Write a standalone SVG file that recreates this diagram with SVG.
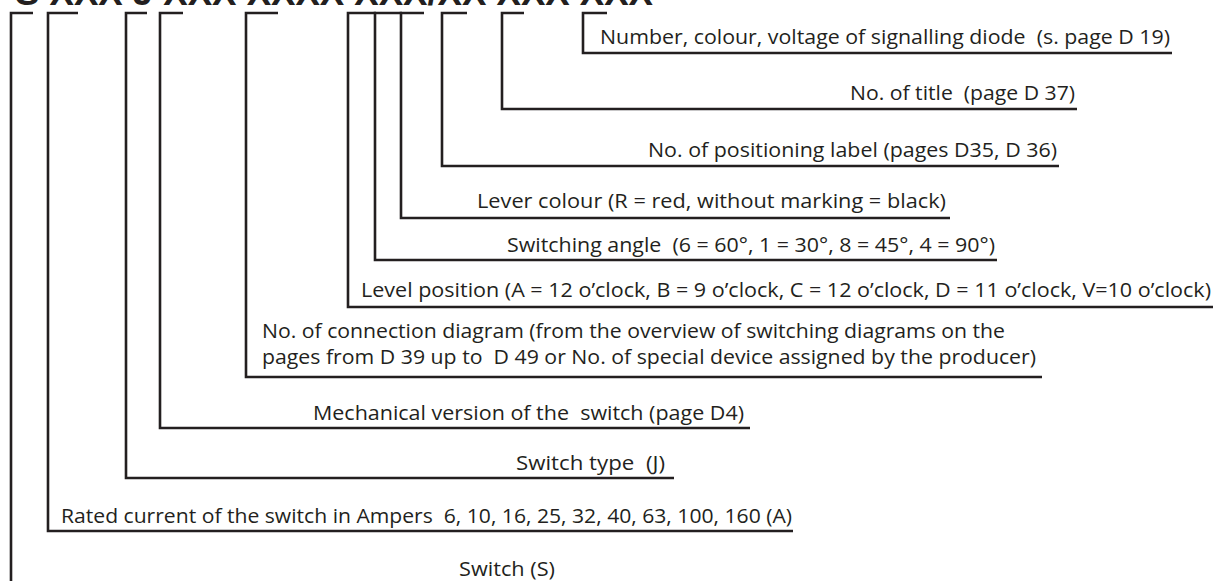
<svg xmlns="http://www.w3.org/2000/svg" width="1216" height="581" viewBox="0 0 1216 581">
<style>
.ln{fill:none;stroke:#231f20;stroke-width:2.6;stroke-linejoin:miter;stroke-linecap:butt}
.t{font-family:"Open Sans","Noto Sans","Liberation Sans",sans-serif;font-size:19.5px;fill:#231f20;white-space:pre}
.code{font-family:"Liberation Sans",Arial,sans-serif;font-weight:bold;font-size:36px;fill:#231f20}
</style>
<rect width="1216" height="581" fill="#ffffff"/>
<g id="code"><text class="code" x="15" y="4.5" textLength="638" lengthAdjust="spacingAndGlyphs">S XXX J XXX XXXX XXX/XX XXX XXX</text></g>
<g id="connectors">
<path class="ln" d="M33,13 H11 V583"/>
<path class="ln" d="M78,13 H48 V531 H793"/>
<path class="ln" d="M147,13 H126 V478 H674"/>
<path class="ln" d="M183,13 H160 V428 H750"/>
<path class="ln" d="M278,13 H246 V377 H1042"/>
<path class="ln" d="M376,13 H348 V307 H1213"/>
<path class="ln" d="M402,13 H375 V260 H997"/>
<path class="ln" d="M424,13 H401 V218 H950"/>
<path class="ln" d="M467,13 H442 V166 H1059"/>
<path class="ln" d="M524,13 H502 V109 H1077"/>
<path class="ln" d="M607,13 H583 V53 H1172"/>
</g>
<g id="diode"><text class="t" xml:space="preserve" x="600" y="44" textLength="570" lengthAdjust="spacingAndGlyphs">Number, colour, voltage of signalling diode  (s. page D 19)</text></g>
<g id="title"><text class="t" xml:space="preserve" x="850" y="100" textLength="225" lengthAdjust="spacingAndGlyphs">No. of title  (page D 37)</text></g>
<g id="positioning-label"><text class="t" x="648" y="157" textLength="409" lengthAdjust="spacingAndGlyphs">No. of positioning label (pages D35, D 36)</text></g>
<g id="lever-colour"><text class="t" x="477" y="207.5" textLength="469" lengthAdjust="spacingAndGlyphs">Lever colour (R = red, without marking = black)</text></g>
<g id="switching-angle"><text class="t" xml:space="preserve" x="507" y="251.5" textLength="488" lengthAdjust="spacingAndGlyphs">Switching angle  (6 = 60°, 1 = 30°, 8 = 45°, 4 = 90°)</text></g>
<g id="level-position"><text class="t" x="361" y="297" textLength="850" lengthAdjust="spacingAndGlyphs">Level position (A = 12 o’clock, B = 9 o’clock, C = 12 o’clock, D = 11 o’clock, V=10 o’clock)</text></g>
<g id="connection-diagram"><text class="t" x="262" y="338" textLength="743" lengthAdjust="spacingAndGlyphs">No. of connection diagram (from the overview of switching diagrams on the</text><text class="t" xml:space="preserve" x="262" y="364" textLength="774" lengthAdjust="spacingAndGlyphs">pages from D 39 up to  D 49 or No. of special device assigned by the producer)</text></g>
<g id="mechanical-version"><text class="t" xml:space="preserve" x="313" y="420" textLength="431" lengthAdjust="spacingAndGlyphs">Mechanical version of the  switch (page D4)</text></g>
<g id="switch-type"><text class="t" xml:space="preserve" x="516" y="470" textLength="149" lengthAdjust="spacingAndGlyphs">Switch type  (J)</text></g>
<g id="rated-current"><text class="t" xml:space="preserve" x="61" y="523" textLength="731" lengthAdjust="spacingAndGlyphs">Rated current of the switch in Ampers  6, 10, 16, 25, 32, 40, 63, 100, 160 (A)</text></g>
<g id="switch"><text class="t" x="459" y="576" textLength="96" lengthAdjust="spacingAndGlyphs">Switch (S)</text></g>
</svg>
